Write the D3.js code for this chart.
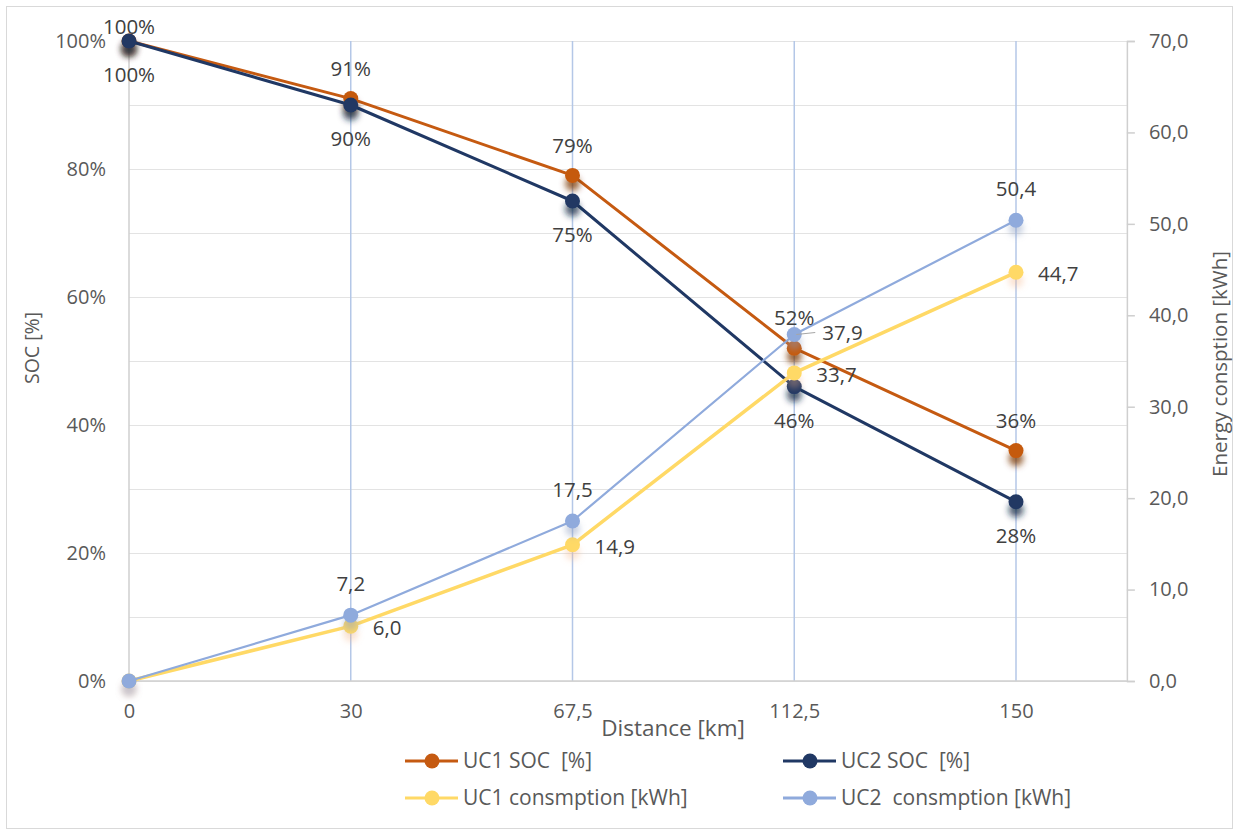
<!DOCTYPE html>
<html>
<head>
<meta charset="utf-8">
<script src="https://cdn.jsdelivr.net/npm/d3@7"></script>
<style>
  html, body { margin: 0; padding: 0; background: #fff; }
  svg { display: block; font-family: "Open Sans", "Noto Sans", sans-serif; }
  text { white-space: pre; }
</style>
</head>
<body>
<svg id="chart" width="1234" height="832"></svg>
<script>
// Distance categories (km) and series values
const distances = ["0", "30", "67,5", "112,5", "150"];
const uc1Soc = [1.00, 0.91, 0.79, 0.52, 0.36];
const uc2Soc = [1.00, 0.90, 0.75, 0.46, 0.28];
const uc1Cons = [0.0, 6.0, 14.9, 33.7, 44.7];
const uc2Cons = [0.0, 7.2, 17.5, 37.9, 50.4];
const socTicks = [0, 0.2, 0.4, 0.6, 0.8, 1.0];
const socGrid = [0, 0.1, 0.2, 0.3, 0.4, 0.5, 0.6, 0.7, 0.8, 0.9, 1.0];
const energyTicks = [0, 10, 20, 30, 40, 50, 60, 70];

const svg = d3.select("#chart");
const W = 1234, H = 832;
const plotTop = 41, plotBottom = 681, plotLeft = 129;

const x = d3.scalePoint().domain(distances).range([plotLeft, 1016]);
const plotRight = x(distances[distances.length - 1]) + x.step() / 2;
const ySoc = d3.scaleLinear().domain([0, 1]).range([plotBottom, plotTop]);
const yE = d3.scaleLinear().domain([0, 70]).range([plotBottom, plotTop]);

const pct = d3.format(".0%");
const comma = v => d3.format(".1f")(v).replace(".", ",");

// outer frame
svg.append("rect").attr("x", 6.5).attr("y", 6.5).attr("width", W - 8).attr("height", H - 10)
  .attr("fill", "#fff").attr("stroke", "#d9d9d9").attr("stroke-width", 1);

// marker shadows
const defs = svg.append("defs");
function shadow(id, color, op) {
  const f = defs.append("filter").attr("id", id).attr("x", "-100%").attr("y", "-100%")
    .attr("width", "300%").attr("height", "300%");
  f.append("feFlood").attr("flood-color", color).attr("flood-opacity", op).attr("result", "c");
  f.append("feComposite").attr("in", "c").attr("in2", "SourceAlpha").attr("operator", "in").attr("result", "s");
  f.append("feGaussianBlur").attr("in", "s").attr("stdDeviation", 3).attr("result", "b");
  f.append("feOffset").attr("in", "b").attr("dy", 8).attr("result", "o");
  const m = f.append("feMerge");
  m.append("feMergeNode").attr("in", "o");
  m.append("feMergeNode").attr("in", "SourceGraphic");
}
shadow("sh1", "#7a3508", 0.75);
shadow("sh2", "#142543", 0.75);
shadow("sh3", "#f4b183", 0.35);
shadow("sh4", "#8a9cbf", 0.45);

// horizontal gridlines
svg.append("g").selectAll("line").data(socGrid).join("line")
  .attr("x1", plotLeft).attr("x2", plotRight)
  .attr("y1", d => Math.round(ySoc(d)) + 0.5).attr("y2", d => Math.round(ySoc(d)) + 0.5)
  .attr("stroke", "#e3e3e3").attr("stroke-width", 1.2);

// vertical category gridlines
svg.append("g").selectAll("line").data(distances.slice(1)).join("line")
  .attr("x1", d => x(d)).attr("x2", d => x(d))
  .attr("y1", plotTop).attr("y2", plotBottom)
  .attr("stroke", "#b4c7e7").attr("stroke-width", 1.5);

// axis lines
svg.append("line").attr("x1", plotLeft).attr("x2", plotLeft).attr("y1", plotTop).attr("y2", plotBottom)
  .attr("stroke", "#cfcfcf").attr("stroke-width", 1.5);
svg.append("line").attr("x1", plotLeft).attr("x2", plotRight).attr("y1", plotBottom).attr("y2", plotBottom)
  .attr("stroke", "#cfcfcf").attr("stroke-width", 1.5);

// left axis labels
const gl = svg.append("g").attr("transform", `translate(${plotLeft},0)`)
  .call(d3.axisLeft(ySoc).tickValues(socTicks).tickFormat(pct).tickSize(0).tickPadding(23));
gl.select(".domain").remove();
gl.selectAll("text").attr("font-size", 20).attr("fill", "#595959").attr("font-family", "Open Sans");

// right axis
const gr = svg.append("g").attr("transform", `translate(${plotRight},0)`)
  .call(d3.axisRight(yE).tickValues(energyTicks).tickFormat(comma).tickSize(8).tickPadding(14));
gr.select(".domain").attr("stroke", "#cfcfcf").attr("stroke-width", 1.5);
gr.selectAll(".tick line").attr("stroke", "#cfcfcf").attr("stroke-width", 1.5);
gr.selectAll("text").attr("font-size", 20).attr("fill", "#595959").attr("font-family", "Open Sans");

// bottom axis labels
const gb = svg.append("g").attr("transform", `translate(0,${plotBottom})`)
  .call(d3.axisBottom(x).tickSize(0).tickPadding(23));
gb.select(".domain").remove();
gb.selectAll("text").attr("font-size", 20).attr("fill", "#595959").attr("font-family", "Open Sans");

// axis titles
svg.append("text").attr("x", 673).attr("y", 736).attr("text-anchor", "middle")
  .attr("font-size", 22.5).attr("fill", "#595959").text("Distance [km]");
svg.append("text").attr("transform", `translate(39,348) rotate(-90)`).attr("text-anchor", "middle")
  .attr("font-size", 19.5).attr("fill", "#595959").text("SOC [%]");
svg.append("text").attr("transform", `translate(1227,364) rotate(-90)`).attr("text-anchor", "middle")
  .attr("font-size", 20.5).attr("fill", "#595959").text("Energy consption [kWh]");

const series = [
  { name: "UC1 SOC  [%]", vals: uc1Soc, y: ySoc, color: "#c55a11", w: 3, sh: "sh1" },
  { name: "UC2 SOC  [%]", vals: uc2Soc, y: ySoc, color: "#203864", w: 3, sh: "sh2" },
  { name: "UC1 consmption [kWh]", vals: uc1Cons, y: yE, color: "#ffd966", w: 3.5, sh: "sh3" },
  { name: "UC2  consmption [kWh]", vals: uc2Cons, y: yE, color: "#8faadc", w: 2.2, sh: "sh4" }
];

series.forEach(s => {
  const pts = s.vals.map((v, i) => [x(distances[i]), s.y(v)]);
  svg.append("path").attr("d", d3.line()(pts)).attr("fill", "none")
    .attr("stroke", s.color).attr("stroke-width", s.w).attr("stroke-linejoin", "round");
  svg.append("g").selectAll("circle").data(pts).join("circle")
    .attr("cx", d => d[0]).attr("cy", d => d[1]).attr("r", 7.5)
    .attr("fill", s.color).attr("filter", `url(#${s.sh})`);
});

// data labels
const lab = svg.append("g").attr("font-size", 20.5).attr("fill", "#404040");
uc1Soc.forEach((v, i) => {
  const cy = Math.max(ySoc(v) - 30, 27);
  lab.append("text").attr("x", x(distances[i])).attr("y", cy).attr("dy", "0.35em")
    .attr("text-anchor", "middle").text(pct(v));
});
uc2Soc.forEach((v, i) => {
  lab.append("text").attr("x", x(distances[i])).attr("y", ySoc(v) + 34).attr("dy", "0.35em")
    .attr("text-anchor", "middle").text(pct(v));
});
uc2Cons.forEach((v, i) => {
  if (i === 0) return;
  const cx = x(distances[i]), cy = yE(v);
  if (i === 3) {
    lab.append("line").attr("x1", cx + 2).attr("y1", cy).attr("x2", cx + 21).attr("y2", cy - 2)
      .attr("stroke", "#a6a6a6").attr("stroke-width", 1.2);
    lab.append("text").attr("x", cx + 28).attr("y", cy - 2).attr("dy", "0.35em").text(comma(v));
  } else {
    lab.append("text").attr("x", cx).attr("y", cy - 31).attr("dy", "0.35em")
      .attr("text-anchor", "middle").text(comma(v));
  }
});
uc1Cons.forEach((v, i) => {
  if (i === 0) return;
  lab.append("text").attr("x", x(distances[i]) + 22).attr("y", yE(v) + 2).attr("dy", "0.35em")
    .text(comma(v));
});

// legend
const legPos = [[405, 761], [783, 761], [405, 798], [783, 798]];
series.forEach((s, i) => {
  const [lx, ly] = legPos[i];
  const g = svg.append("g").attr("transform", `translate(${lx},${ly})`);
  g.append("line").attr("x1", 0).attr("x2", 53).attr("stroke", s.color).attr("stroke-width", 3);
  g.append("circle").attr("cx", 27).attr("r", 7.5).attr("fill", s.color);
  g.append("text").attr("x", 58).attr("dy", "0.35em").attr("font-size", 21).attr("fill", "#595959").text(s.name);
});
</script>
</body>
</html>
